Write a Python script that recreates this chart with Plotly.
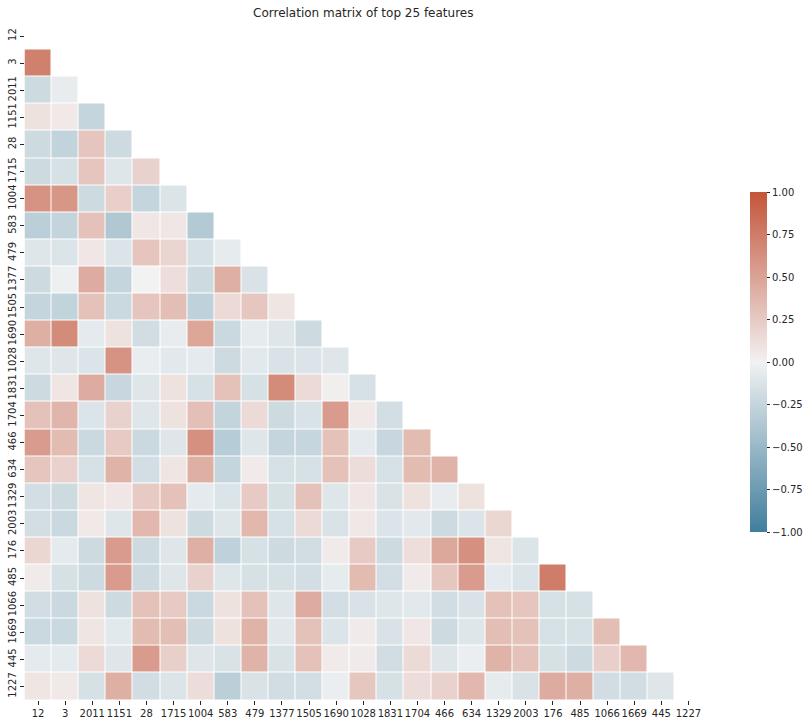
import math
import plotly.graph_objects as go

# ---------------- data ----------------
labels = ["12", "3", "2011", "1151", "28", "1715", "1004", "583", "479", "1377",
          "1505", "1690", "1028", "1831", "1704", "466", "634", "1329", "2003",
          "176", "485", "1066", "1669", "445", "1227"]

row_3 = [0.72]
row_2011 = [-0.20, -0.05]
row_1151 = [0.10, 0.05, -0.25]
row_28 = [-0.20, -0.27, 0.28, -0.20]
row_1715 = [-0.20, -0.15, 0.28, -0.10, 0.20]
row_1004 = [0.60, 0.58, -0.20, 0.22, -0.25, -0.12]
row_583 = [-0.30, -0.26, 0.30, -0.36, 0.07, 0.07, -0.35]
row_479 = [-0.10, -0.12, 0.07, -0.12, 0.28, 0.18, -0.15, -0.06]
row_1377 = [-0.20, -0.02, 0.45, -0.25, 0.00, 0.12, -0.20, 0.42, -0.13]
row_1505 = [-0.25, -0.27, 0.30, -0.22, 0.28, 0.33, -0.28, 0.15, 0.27, 0.08]
row_1690 = [0.42, 0.65, -0.07, 0.10, -0.18, -0.05, 0.48, -0.22, -0.06, -0.10, -0.20]
row_1028 = [-0.10, -0.10, -0.12, 0.60, -0.04, -0.08, -0.07, -0.20, -0.08, -0.13, -0.12, -0.10]
row_1831 = [-0.20, 0.08, 0.45, -0.23, -0.10, 0.10, -0.15, 0.30, -0.15, 0.65, 0.15, 0.02, -0.15]
row_1704 = [0.30, 0.38, -0.12, 0.20, -0.10, 0.10, 0.32, -0.26, 0.15, -0.20, -0.13, 0.55, 0.05, -0.17]
row_466 = [0.55, 0.35, -0.22, 0.25, -0.22, -0.10, 0.62, -0.33, -0.10, -0.25, -0.24, 0.30, -0.07, -0.23, 0.35]
row_634 = [0.28, 0.20, -0.15, 0.40, -0.17, 0.08, 0.42, -0.25, 0.04, -0.15, -0.15, 0.30, 0.13, -0.15, 0.35, 0.40]
row_1329 = [-0.17, -0.20, 0.08, 0.07, 0.25, 0.30, -0.07, -0.12, 0.25, -0.15, 0.30, -0.10, 0.07, -0.14, 0.10, -0.05, 0.10]
row_2003 = [-0.17, -0.22, 0.05, -0.10, 0.37, 0.10, -0.20, -0.10, 0.37, -0.15, 0.15, -0.14, 0.06, -0.12, -0.08, -0.20, -0.12, 0.17]
row_176 = [0.17, -0.07, -0.20, 0.55, -0.20, -0.10, 0.42, -0.28, -0.15, -0.20, -0.18, 0.04, 0.25, -0.20, 0.12, 0.47, 0.62, 0.08, -0.12]
row_485 = [0.04, -0.15, -0.20, 0.55, -0.20, -0.10, 0.20, -0.10, -0.15, -0.15, -0.17, -0.06, 0.35, -0.17, 0.04, 0.27, 0.55, -0.07, -0.12, 0.75]
row_1066 = [-0.18, -0.22, 0.10, -0.20, 0.30, 0.25, -0.22, 0.10, 0.30, -0.10, 0.45, -0.17, -0.13, -0.10, -0.08, -0.18, -0.14, 0.30, 0.28, -0.15, -0.15]
row_1669 = [-0.22, -0.22, 0.08, -0.08, 0.35, 0.33, -0.20, 0.10, 0.40, -0.09, 0.30, -0.12, 0.04, -0.13, 0.07, -0.20, -0.10, 0.33, 0.30, -0.15, -0.15, 0.33]
row_445 = [-0.07, -0.07, 0.15, -0.10, 0.55, 0.22, -0.10, -0.13, 0.40, -0.14, 0.30, 0.04, 0.04, -0.18, 0.15, -0.10, -0.03, 0.40, 0.30, -0.15, -0.20, 0.22, 0.37]
row_1227 = [0.08, 0.05, -0.15, 0.42, -0.18, -0.12, 0.13, -0.30, -0.13, -0.18, -0.17, -0.03, 0.27, -0.15, 0.13, 0.20, 0.37, -0.06, -0.13, 0.45, 0.42, -0.18, -0.18, -0.10]

lower_rows = [[], row_3, row_2011, row_1151, row_28, row_1715, row_1004, row_583,
              row_479, row_1377, row_1505, row_1690, row_1028, row_1831, row_1704,
              row_466, row_634, row_1329, row_2003, row_176, row_485, row_1066,
              row_1669, row_445, row_1227]

cbar_ticks = [-1.0, -0.75, -0.5, -0.25, 0.0, 0.25, 0.5, 0.75, 1.0]

# ---------------- seaborn diverging_palette(230, 20) via HUSL ----------------
M = [[3.2406, -1.5372, -0.4986], [-0.9689, 1.8758, 0.0415], [0.0557, -0.2040, 1.0570]]
refU, refV, lab_e, lab_k = 0.19784, 0.46834, 0.008856, 903.3


def max_chroma(L, H):
    hrad = math.radians(H)
    sinH, cosH = math.sin(hrad), math.cos(hrad)
    sub1 = (L + 16) ** 3 / 1560896.0
    sub2 = sub1 if sub1 > lab_e else L / lab_k
    result = float("inf")
    for m1, m2, m3 in M:
        top = (0.99915 * m1 + 1.05122 * m2 + 1.14460 * m3) * sub2
        rbottom = 0.86330 * m3 - 0.17266 * m2
        lbottom = 0.12949 * m3 - 0.38848 * m1
        bottom = (rbottom * sinH + lbottom * cosH) * sub2
        for t in (0.0, 1.0):
            C = L * (top - 1.05122 * t) / (bottom + 0.17266 * sinH * t)
            if 0.0 < C < result:
                result = C
    return result


def husl_to_rgb(H, S, L):
    C = max_chroma(L, H) / 100.0 * S
    U = math.cos(math.radians(H)) * C
    V = math.sin(math.radians(H)) * C
    t = (L + 16.0) / 116.0
    varY = t ** 3 if t ** 3 > lab_e else (116.0 * t - 16.0) / lab_k
    varU = U / (13.0 * L) + refU
    varV = V / (13.0 * L) + refV
    Y = varY
    X = -(9.0 * Y * varU) / ((varU - 4.0) * varV - varU * varV)
    Z = (9.0 * Y - 15.0 * varV * Y - varV * X) / (3.0 * varV)
    out = []
    for row in M:
        c = row[0] * X + row[1] * Y + row[2] * Z
        c = 12.92 * c if c <= 0.0031308 else 1.055 * c ** (1 / 2.4) - 0.055
        out.append(min(max(c, 0.0), 1.0))
    return out


def css(c):
    return "rgb(%d,%d,%d)" % tuple(round(v * 255) for v in c)


neg = husl_to_rgb(230, 75, 50)
neg_gray = husl_to_rgb(230, 75 * 0.15, 95)
pos = husl_to_rgb(20, 75, 50)
pos_gray = husl_to_rgb(20, 75 * 0.15, 95)
mid = [0.95, 0.95, 0.95]
colorscale = [[0.0, css(neg)], [126 / 254, css(neg_gray)], [127 / 254, css(mid)],
              [128 / 254, css(pos_gray)], [1.0, css(pos)]]

# ---------------- build masked matrix ----------------
n = len(labels)
z = []
for i in range(n):
    r = lower_rows[i]
    assert len(r) == i
    z.append(list(r) + [None] * (n - i))

W, H = 812, 726
x0, x1 = 24.5, 702.0
y0, y1 = 22.5, 700.0
txt = "#262626"

fig = go.Figure(go.Heatmap(
    z=z, x=list(range(n)), y=list(range(n)),
    colorscale=colorscale, zmin=-1, zmax=1,
    xgap=1, ygap=1, hoverongaps=False,
    colorbar=dict(
        thickness=17, thicknessmode="pixels",
        len=340 / H, lenmode="fraction",
        x=750 / W, xanchor="left", xpad=0,
        y=1 - 362 / H, yanchor="middle", ypad=0,
        outlinewidth=0,
        tickvals=cbar_ticks,
        ticktext=[("%.2f" % v).replace("-", "\u2212") for v in cbar_ticks],
        ticks="outside", ticklen=3.5, tickwidth=0.8, tickcolor=txt,
        tickfont=dict(family="DejaVu Sans", size=10, color=txt),
    ),
))

fig.update_layout(
    width=W, height=H,
    margin=dict(l=0, r=0, t=0, b=0, autoexpand=False),
    paper_bgcolor="white", plot_bgcolor="white",
    title=dict(text="Correlation matrix of top 25 features",
               x=(x0 + x1) / 2 / W, xanchor="center",
               y=1 - 13 / H, yanchor="middle",
               font=dict(family="DejaVu Sans", size=12, color=txt)),
    xaxis=dict(domain=[x0 / W, x1 / W], range=[-0.5, n - 0.5],
               tickvals=list(range(n)), ticktext=labels,
               ticks="outside", ticklen=3.5, tickwidth=0.8, tickcolor=txt,
               showgrid=False, zeroline=False, showline=False,
               tickangle=0, automargin=False,
               tickfont=dict(family="DejaVu Sans", size=10, color=txt)),
    yaxis=dict(domain=[1 - y1 / H, 1 - y0 / H], range=[n - 0.5, -0.5],
               tickvals=list(range(n)), ticktext=labels,
               ticks="outside", ticklen=3.5, tickwidth=0.8, tickcolor=txt,
               showgrid=False, zeroline=False, showline=False,
               tickangle=-90, automargin=False,
               tickfont=dict(family="DejaVu Sans", size=10, color=txt)),
)

fig.write_html("out.html", config={"displayModeBar": False},
               post_script="document.body.style.margin='0px';document.body.style.padding='0px';")
